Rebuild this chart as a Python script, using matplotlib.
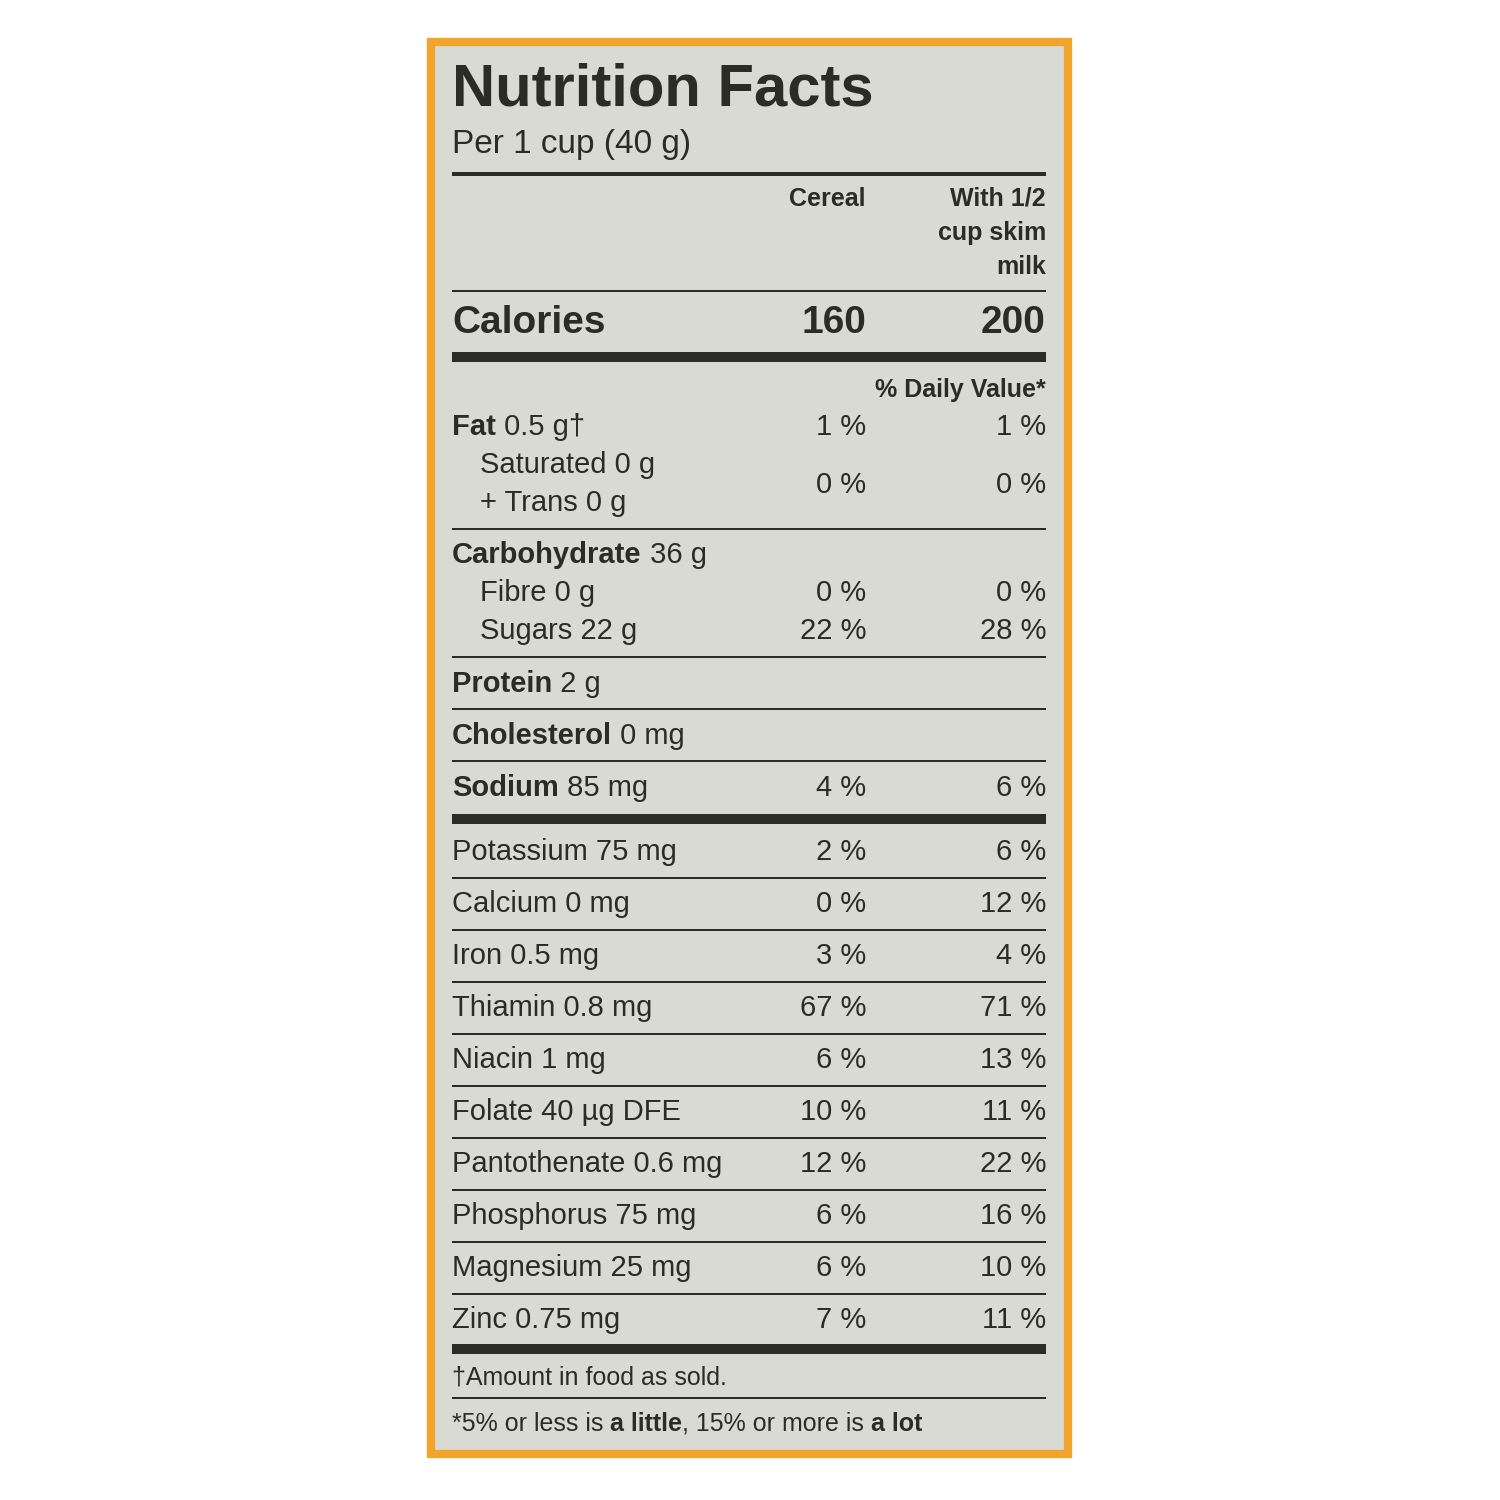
import matplotlib
matplotlib.use("Agg")
import matplotlib.pyplot as plt
from matplotlib.patches import Rectangle

plt.rcParams['font.family'] = ['Liberation Sans', 'DejaVu Sans']

title = "Nutrition Facts"
serving = "Per 1 cup (40 g)"
col_heads = ["Cereal", "With 1/2\ncup skim\nmilk"]
calories = [160, 200]
# (bold label, amount, cereal %, milk %, indent)
rows_top = [
    ("Fat", " 0.5 g\u2020", "1 %", "1 %"),
]
sat_text = ["Saturated 0 g", "+ Trans 0 g"]
sat_dv = ["0 %", "0 %"]
carb = ("Carbohydrate", " 36 g")
carb_sub = [("Fibre 0 g", "0 %", "0 %"), ("Sugars 22 g", "22 %", "28 %")]
mid_rows = [("Protein", " 2 g", "", ""), ("Cholesterol", " 0 mg", "", ""), ("Sodium", " 85 mg", "4 %", "6 %")]
minerals = ["Potassium 75 mg", "Calcium 0 mg", "Iron 0.5 mg", "Thiamin 0.8 mg", "Niacin 1 mg",
            "Folate 40 \u00b5g DFE", "Pantothenate 0.6 mg", "Phosphorus 75 mg", "Magnesium 25 mg", "Zinc 0.75 mg"]
min_cereal = ["2 %", "0 %", "3 %", "67 %", "6 %", "10 %", "12 %", "6 %", "6 %", "7 %"]
min_milk = ["6 %", "12 %", "4 %", "71 %", "13 %", "11 %", "22 %", "16 %", "10 %", "11 %"]

C = '#2b2b28'
fig = plt.figure(figsize=(15, 15), dpi=100)
ax = fig.add_axes([0, 0, 1, 1])
ax.set_xlim(0, 1500); ax.set_ylim(1500, 0); ax.axis('off')
fig.patch.set_facecolor('white')
ax.add_patch(Rectangle((431, 42), 637, 1412, facecolor='#dadad5', edgecolor='#f2a52c', lw=6))
r = fig.canvas.get_renderer()
L, X1, X2 = 452, 866, 1046

def txt(x, y, s, size, bold=False, ha='left'):
    return ax.text(x, y, s, fontsize=size, fontweight='bold' if bold else 'normal',
                   ha=ha, va='center', color=C)

def chain(x, y, parts, size):
    for s, b in parts:
        t = txt(x, y, s, size, b)
        bb = t.get_window_extent(r)
        x += bb.width  # 1 data unit == 1 px
    return x

def hline(y, w):
    ax.plot([L, X2], [y, y], color=C, lw=w * 0.72, solid_capstyle='butt')

FS = 21
txt(L, 90, title, 43, True)
txt(L, 145, serving, 24)
hline(174, 4)
txt(X1, 199, col_heads[0], 18, True, 'right')
for i, s in enumerate(col_heads[1].split('\n')):
    txt(X2, 199 + 34 * i, s, 18, True, 'right')
hline(291, 2)
txt(L, 323, "Calories", 28, True)
txt(X1, 323, str(calories[0]), 28, True, 'right')
txt(X2, 323, str(calories[1]), 28, True, 'right')
hline(357, 10)
txt(X2, 390, "% Daily Value*", 18, True, 'right')
for b, a, c1, c2 in rows_top:
    chain(L, 427, [(b, True), (a, False)], FS)
    txt(X1, 427, c1, FS, ha='right'); txt(X2, 427, c2, FS, ha='right')
txt(480, 465, sat_text[0], FS); txt(480, 503, sat_text[1], FS)
txt(X1, 485, sat_dv[0], FS, ha='right'); txt(X2, 485, sat_dv[1], FS, ha='right')
hline(529, 2)
chain(L, 555, [(carb[0], True), (carb[1], False)], FS)
for i, (s, c1, c2) in enumerate(carb_sub):
    y = 593 + 38 * i
    txt(480, y, s, FS); txt(X1, y, c1, FS, ha='right'); txt(X2, y, c2, FS, ha='right')
y = 684
for b, a, c1, c2 in mid_rows:
    hline(y - 27, 2)
    chain(L, y, [(b, True), (a, False)], FS)
    if c1:
        txt(X1, y, c1, FS, ha='right'); txt(X2, y, c2, FS, ha='right')
    y += 52
hline(819, 10)
for i, (s, c1, c2) in enumerate(zip(minerals, min_cereal, min_milk)):
    y = 852 + 52 * i
    if i > 0:
        hline(y - 26, 2)
    txt(L, y, s, FS); txt(X1, y, c1, FS, ha='right'); txt(X2, y, c2, FS, ha='right')
hline(1349, 10)
txt(L, 1377, "\u2020Amount in food as sold.", 18)
hline(1398, 2)
chain(L, 1424, [("*5% or less is ", False), ("a little", True), (", 15% or more is ", False), ("a lot", True)], 18)
fig.savefig("out.png", dpi=100)
